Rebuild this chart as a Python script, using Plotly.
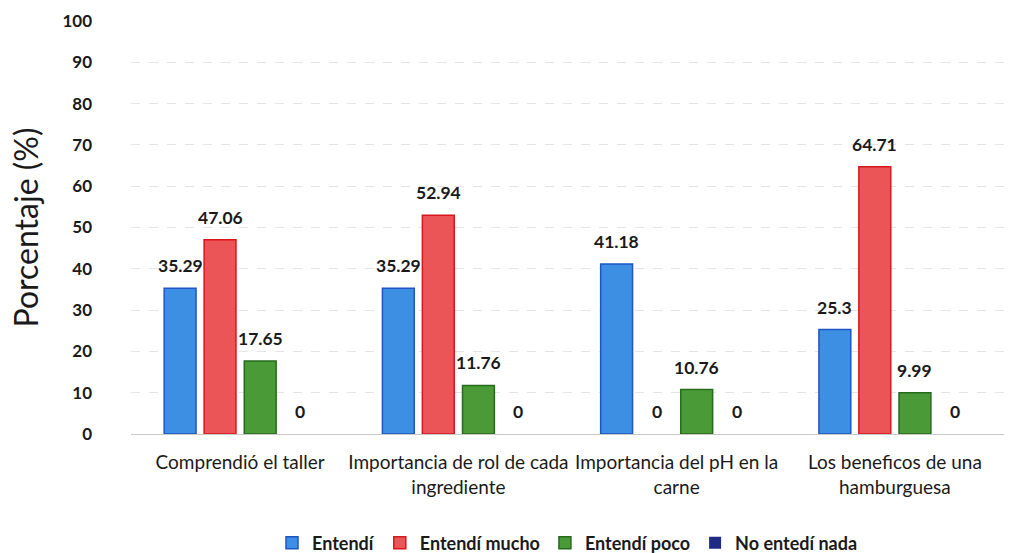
import plotly.graph_objects as go

# Survey results per workshop topic (percent of respondents)
categories = [
    "Comprendió el taller",
    "Importancia de rol de cada<br>ingrediente",
    "Importancia del pH en la<br>carne",
    "Los beneficos de una<br>hamburguesa",
]
series_names = ["Entendí", "Entendí mucho", "Entendí poco", "No entedí nada"]
entendi = [35.29, 35.29, 41.18, 25.3]
entendi_mucho = [47.06, 52.94, 0, 64.71]
entendi_poco = [17.65, 11.76, 10.76, 9.99]
no_entendi_nada = [0, 0, 0, 0]
y_ticks = [0, 10, 20, 30, 40, 50, 60, 70, 80, 90, 100]

series_values = [entendi, entendi_mucho, entendi_poco, no_entendi_nada]
fills = ["#3d8fe3", "#ec5558", "#4a9b38", "#1f2a86"]
borders = ["#1e56c4", "#d8161c", "#256b1c", "#141c66"]
offsets = [-0.275, -0.092, 0.092, 0.275]
bar_w = 0.146

FONT = "Lato"
x_idx = list(range(len(categories)))

fig = go.Figure()
annotations = []
for name, vals, fc, bc, off in zip(series_names, series_values, fills, borders, offsets):
    xs = [i + off for i in x_idx]
    fig.add_trace(go.Bar(
        x=xs, y=vals, name=name, width=bar_w,
        marker=dict(color=fc, line=dict(color=bc, width=[1.5 if v > 0 else 0 for v in vals])),
    ))
    for x, v in zip(xs, vals):
        annotations.append(dict(
            x=x, y=v, xref="x", yref="y", text=f"{v:g}", showarrow=False,
            yanchor="bottom", yshift=10,
            font=dict(family=FONT, size=17.5, color="#1a1a1a", weight="bold"),
        ))

fig.update_layout(
    width=1016, height=553,
    margin=dict(l=131, r=12, t=21, b=119),
    paper_bgcolor="white", plot_bgcolor="white",
    barmode="overlay",
    annotations=annotations,
    font=dict(family=FONT, color="#1a1a1a"),
    legend=dict(
        orientation="h", x=0.5, xanchor="center",
        yref="container", y=10 / 553, yanchor="middle",
        font=dict(family=FONT, size=18, color="#1a1a1a", weight="bold"),
        traceorder="normal", itemwidth=30,
    ),
    xaxis=dict(
        range=[-0.5, 3.5], tickmode="array", tickvals=x_idx, ticktext=categories,
        showgrid=False, zeroline=False, showline=False, ticks="",
        ticklabelstandoff=15, automargin=False,
        tickfont=dict(family=FONT, size=19, color="#1a1a1a"),
    ),
    yaxis=dict(
        range=[0, 100], tickmode="array", tickvals=y_ticks,
        showgrid=True, gridcolor="#e4e4e4", griddash="dash", gridwidth=1,
        zeroline=True, zerolinecolor="#c8c8c8", zerolinewidth=1,
        showline=False, ticks="", ticklabelstandoff=38, automargin=False,
        tickfont=dict(family=FONT, size=17, color="#1a1a1a", weight="bold"),
        title=dict(text="Porcentaje (%)", standoff=14,
                   font=dict(family=FONT, size=32, color="#1a1a1a")),
    ),
)

fig.write_html("out.html")
